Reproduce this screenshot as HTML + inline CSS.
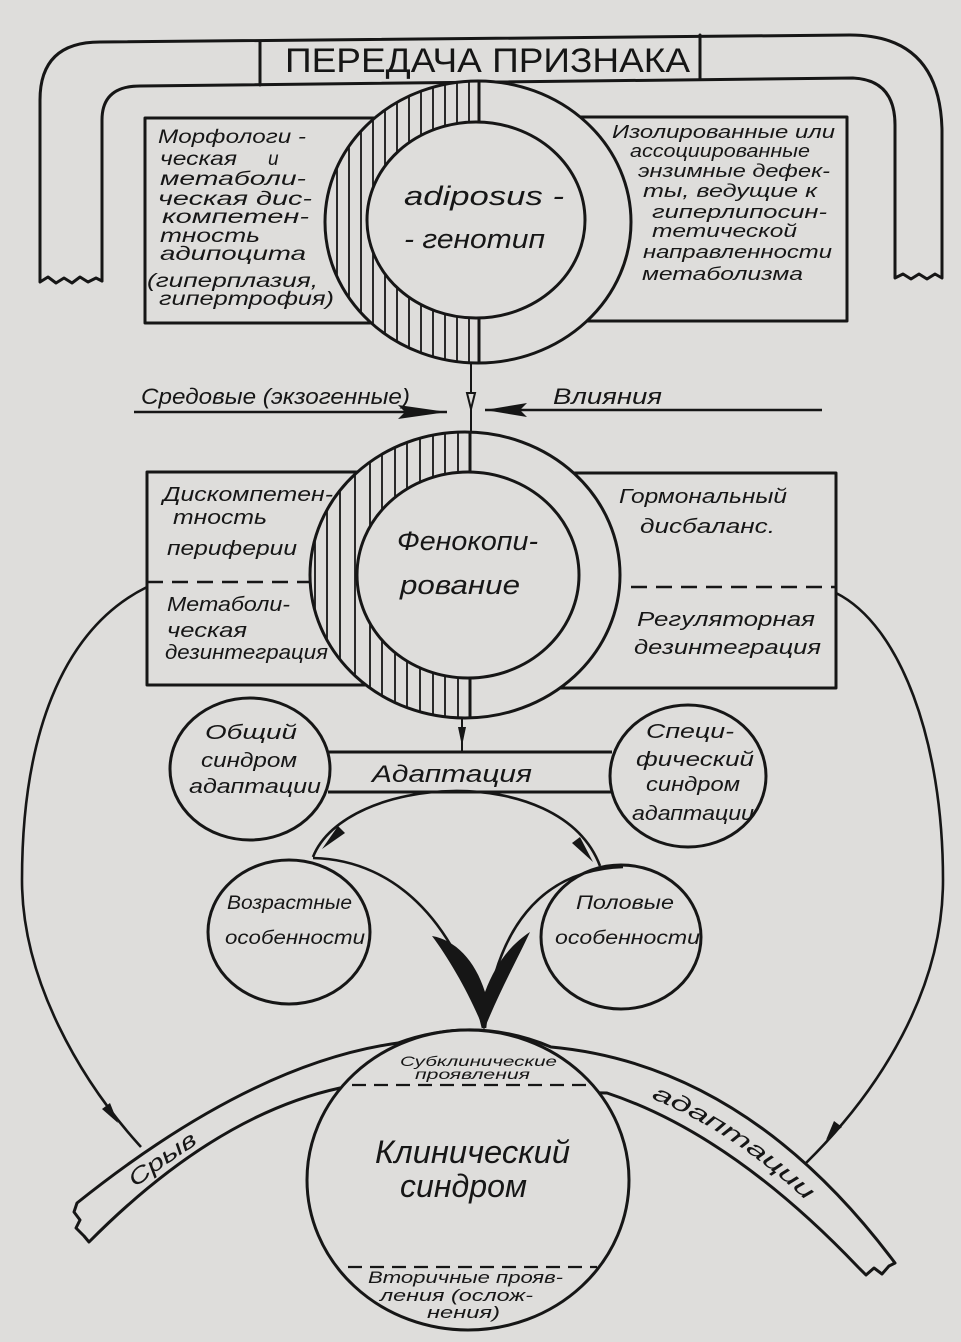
<!DOCTYPE html>
<html><head><meta charset="utf-8">
<style>
html,body{margin:0;padding:0;background:#dedddb;}
svg{display:block;}
text{font-family:"Liberation Sans","DejaVu Sans",sans-serif;fill:#161616;}
.h{font-style:italic;}
</style></head>
<body>
<svg width="961" height="1342" viewBox="0 0 961 1342" xmlns="http://www.w3.org/2000/svg">
<defs>
<clipPath id="ring1"><path clip-rule="evenodd" d="M325,222 a153,141 0 1,0 306,0 a153,141 0 1,0 -306,0 Z M367,220 a109,98 0 1,0 218,0 a109,98 0 1,0 -218,0 Z"/></clipPath>
<clipPath id="ring2"><path clip-rule="evenodd" d="M310,575 a155,143 0 1,0 310,0 a155,143 0 1,0 -310,0 Z M357,575 a111,103 0 1,0 222,0 a111,103 0 1,0 -222,0 Z"/></clipPath>
<path id="bandL" d="M83,1222 Q234,1089 369,1065"/>
<path id="bandR" d="M579,1070 Q739,1100 876,1265"/>
</defs>
<rect width="961" height="1342" fill="#dedddb"/>

<g fill="none" stroke="#161616" stroke-width="3" stroke-linecap="round" stroke-linejoin="round">
<!-- top arch -->
<path d="M40,281 L40,100 Q40,42 100,42 L850,35 Q940,35 942,130 L942,277"/>
<path d="M102,281 L102,120 Q102,86 140,86 L853,78 Q895,80 895,125 L895,277"/>
<polyline points="40,282 48,277 56,283 64,278 72,283 80,277 88,282 96,278 102,281"/>
<polyline points="895,278 903,274 911,279 919,274 927,279 935,274 942,278"/>
<line x1="260" y1="42" x2="260" y2="85"/>
<line x1="700" y1="35" x2="700" y2="78"/>

<!-- boxes row 1 -->
<rect x="145" y="118" width="290" height="205"/>
<rect x="530" y="117" width="317" height="204"/>

<!-- boxes row 2 -->
<rect x="147" y="472" width="290" height="213"/>
<rect x="540" y="473" width="296" height="215"/>
</g>
<g stroke="#161616" stroke-width="2.5" stroke-dasharray="16 9" fill="none">
<line x1="147" y1="582" x2="312" y2="582"/>
<line x1="631" y1="587" x2="836" y2="587"/>
</g>

<!-- big side curves -->
<g fill="none" stroke="#161616" stroke-width="2.6">
<path d="M147,587 C60,630 22,740 22,880 C22,980 80,1080 141,1147"/>
<path d="M836,593 C900,625 943,740 943,880 C943,990 880,1090 806,1163"/>
</g>
<polygon points="118,1123 102,1109 110,1103" fill="#161616"/>
<polygon points="826,1140 834,1121 842,1127" fill="#161616"/>

<!-- circle 1 -->
<g stroke="#161616" stroke-width="3">
<ellipse cx="478" cy="222" rx="153" ry="141" fill="#dedddb"/>
</g>
<g clip-path="url(#ring1)" stroke="#161616" stroke-width="1.8">
<line x1="337" y1="70" x2="337" y2="370"/><line x1="349" y1="70" x2="349" y2="370"/>
<line x1="361" y1="70" x2="361" y2="370"/><line x1="373" y1="70" x2="373" y2="370"/>
<line x1="385" y1="70" x2="385" y2="370"/><line x1="397" y1="70" x2="397" y2="370"/>
<line x1="409" y1="70" x2="409" y2="370"/><line x1="421" y1="70" x2="421" y2="370"/>
<line x1="433" y1="70" x2="433" y2="370"/><line x1="445" y1="70" x2="445" y2="370"/>
<line x1="457" y1="70" x2="457" y2="370"/><line x1="469" y1="70" x2="469" y2="370"/>
<line x1="479" y1="70" x2="479" y2="370" stroke-width="3"/>
</g>
<ellipse cx="476" cy="220" rx="109" ry="98" fill="#dedddb" stroke="#161616" stroke-width="3"/>

<!-- circle 2 -->
<ellipse cx="465" cy="575" rx="155" ry="143" fill="#dedddb" stroke="#161616" stroke-width="3"/>
<g clip-path="url(#ring2)" stroke="#161616" stroke-width="1.8">
<line x1="315" y1="420" x2="315" y2="730"/><line x1="327" y1="420" x2="327" y2="730"/>
<line x1="340" y1="420" x2="340" y2="730"/><line x1="355" y1="420" x2="355" y2="730"/>
<line x1="370" y1="420" x2="370" y2="730"/><line x1="382" y1="420" x2="382" y2="730"/>
<line x1="395" y1="420" x2="395" y2="730"/><line x1="407" y1="420" x2="407" y2="730"/>
<line x1="420" y1="420" x2="420" y2="730"/><line x1="433" y1="420" x2="433" y2="730"/>
<line x1="445" y1="420" x2="445" y2="730"/><line x1="458" y1="420" x2="458" y2="730"/>
<line x1="470" y1="420" x2="470" y2="730" stroke-width="3"/>
</g>
<ellipse cx="468" cy="575" rx="111" ry="103" fill="#dedddb" stroke="#161616" stroke-width="3"/>

<!-- arrows between circles -->
<g stroke="#161616" stroke-width="2" fill="none">
<line x1="471" y1="363" x2="471" y2="432"/>
<polygon points="467,393 475,393 471,409" fill="#dedddb"/>
<line x1="134" y1="412" x2="447" y2="412" stroke-width="2.5"/>
<line x1="485" y1="410" x2="822" y2="410" stroke-width="2.5"/>
<line x1="462" y1="718" x2="462" y2="752"/>
</g>
<polygon points="398,405 447,412 398,419 405,412" fill="#161616"/>
<polygon points="527,403 485,410 527,417 520,410" fill="#161616"/>
<polygon points="458,727 466,727 462,746" fill="#161616"/>

<!-- adaptation bar -->
<g stroke="#161616" stroke-width="3" fill="none">
<line x1="328" y1="752" x2="612" y2="752"/>
<line x1="328" y1="792" x2="612" y2="792"/>
<path d="M313,857 C345,775 560,760 600,866" stroke-width="2.6"/>
</g>
<ellipse cx="250" cy="769" rx="80" ry="71" fill="#dedddb" stroke="#161616" stroke-width="3"/>
<ellipse cx="688" cy="776" rx="78" ry="71" fill="#dedddb" stroke="#161616" stroke-width="3"/>
<polygon points="322,849 345,833 338,826" fill="#161616"/>
<polygon points="593,862 580,837 572,843" fill="#161616"/>

<!-- small circles -->
<ellipse cx="289" cy="932" rx="81" ry="72" fill="#dedddb" stroke="#161616" stroke-width="3"/>
<ellipse cx="621" cy="937" rx="80" ry="72" fill="#dedddb" stroke="#161616" stroke-width="3"/>
<g stroke="#161616" stroke-width="2.6" fill="none">
<path d="M313,858 C400,860 460,930 483,1028"/>
<path d="M623,867 C540,870 495,930 485,1028"/>
</g>
<path d="M432,936 C455,940 475,960 485,992 C495,965 510,945 530,932 C518,958 500,990 484,1030 C470,995 450,960 432,936 Z" fill="#161616"/>

<!-- band -->
<path d="M77,1203 Q252,1063 398,1043 Q475,1015 551,1047 Q747,1065 895,1263 L889,1266 882,1274 874,1268 866,1275 858,1267 Q731,1134 607,1093 L340,1088 Q215,1115 89,1242 L84,1236 76,1228 80,1220 74,1212 Z" fill="#dedddb" stroke="#161616" stroke-width="3" stroke-linejoin="round"/>

<!-- clinical circle -->
<ellipse cx="468" cy="1180" rx="161" ry="150" fill="#dedddb" stroke="#161616" stroke-width="3"/>
<g stroke="#161616" stroke-width="2.2" stroke-dasharray="14 8">
<line x1="352" y1="1085" x2="592" y2="1085"/>
<line x1="348" y1="1267" x2="597" y2="1267"/>
</g>

<!-- TEXT -->
<text x="285" y="72" font-size="34" textLength="405" lengthAdjust="spacingAndGlyphs">ПЕРЕДАЧА ПРИЗНАКА</text>

<g class="h" font-size="19" font-style="italic">
<text x="158" y="143" textLength="148" lengthAdjust="spacingAndGlyphs">Морфологи -</text>
<text x="160" y="165" textLength="77" lengthAdjust="spacingAndGlyphs">ческая</text>
<text x="268" y="165">и</text>
<text x="160" y="185" textLength="146" lengthAdjust="spacingAndGlyphs">метаболи-</text>
<text x="158" y="205" textLength="154" lengthAdjust="spacingAndGlyphs">ческая дис-</text>
<text x="162" y="223" textLength="147" lengthAdjust="spacingAndGlyphs">компетен-</text>
<text x="160" y="242" textLength="100" lengthAdjust="spacingAndGlyphs">тность</text>
<text x="160" y="260" textLength="146" lengthAdjust="spacingAndGlyphs">адипоцита</text>
<text x="147" y="287" textLength="171" lengthAdjust="spacingAndGlyphs">(гиперплазия,</text>
<text x="159" y="305" textLength="175" lengthAdjust="spacingAndGlyphs">гипертрофия)</text>
</g>

<g font-size="18" font-style="italic">
<text x="612" y="138" textLength="223" lengthAdjust="spacingAndGlyphs">Изолированные или</text>
<text x="630" y="157" textLength="180" lengthAdjust="spacingAndGlyphs">ассоциированные</text>
<text x="638" y="177" textLength="192" lengthAdjust="spacingAndGlyphs">энзимные дефек-</text>
<text x="643" y="197" textLength="174" lengthAdjust="spacingAndGlyphs">ты, ведущие к</text>
<text x="652" y="218" textLength="175" lengthAdjust="spacingAndGlyphs">гиперлипосин-</text>
<text x="652" y="237" textLength="145" lengthAdjust="spacingAndGlyphs">тетической</text>
<text x="643" y="258" textLength="189" lengthAdjust="spacingAndGlyphs">направленности</text>
<text x="642" y="280" textLength="161" lengthAdjust="spacingAndGlyphs">метаболизма</text>
</g>

<g font-size="27" font-style="italic">
<text x="404" y="205" textLength="160" lengthAdjust="spacingAndGlyphs">adiposus -</text>
<text x="404" y="248" textLength="141" lengthAdjust="spacingAndGlyphs">- генотип</text>
<text x="397" y="550" textLength="141" lengthAdjust="spacingAndGlyphs">Фенокопи-</text>
<text x="400" y="594" textLength="120" lengthAdjust="spacingAndGlyphs">рование</text>
</g>

<g font-size="22" font-style="italic">
<text x="141" y="404" textLength="269" lengthAdjust="spacingAndGlyphs">Средовые (экзогенные)</text>
<text x="553" y="404" textLength="109" lengthAdjust="spacingAndGlyphs">Влияния</text>
</g>

<g font-size="20" font-style="italic">
<text x="163" y="501" textLength="170" lengthAdjust="spacingAndGlyphs">Дискомпетен-</text>
<text x="173" y="524" textLength="94" lengthAdjust="spacingAndGlyphs">тность</text>
<text x="167" y="555" textLength="130" lengthAdjust="spacingAndGlyphs">периферии</text>
<text x="167" y="611" textLength="123" lengthAdjust="spacingAndGlyphs">Метаболи-</text>
<text x="167" y="637" textLength="80" lengthAdjust="spacingAndGlyphs">ческая</text>
<text x="165" y="659" textLength="163" lengthAdjust="spacingAndGlyphs">дезинтеграция</text>
<text x="619" y="503" textLength="168" lengthAdjust="spacingAndGlyphs">Гормональный</text>
<text x="640" y="533" textLength="135" lengthAdjust="spacingAndGlyphs">дисбаланс.</text>
<text x="637" y="626" textLength="178" lengthAdjust="spacingAndGlyphs">Регуляторная</text>
<text x="634" y="654" textLength="187" lengthAdjust="spacingAndGlyphs">дезинтеграция</text>

<text x="205" y="739" textLength="92" lengthAdjust="spacingAndGlyphs">Общий</text>
<text x="201" y="767" textLength="96" lengthAdjust="spacingAndGlyphs">синдром</text>
<text x="189" y="793" textLength="132" lengthAdjust="spacingAndGlyphs">адаптации</text>
<text x="646" y="738" textLength="88" lengthAdjust="spacingAndGlyphs">Специ-</text>
<text x="636" y="766" textLength="118" lengthAdjust="spacingAndGlyphs">фический</text>
<text x="646" y="791" textLength="94" lengthAdjust="spacingAndGlyphs">синдром</text>
<text x="632" y="820" textLength="122" lengthAdjust="spacingAndGlyphs">адаптации</text>
</g>

<text x="372" y="782" font-size="24" font-style="italic" textLength="160" lengthAdjust="spacingAndGlyphs">Адаптация</text>

<g font-size="19" font-style="italic">
<text x="227" y="909" textLength="125" lengthAdjust="spacingAndGlyphs">Возрастные</text>
<text x="225" y="944" textLength="140" lengthAdjust="spacingAndGlyphs">особенности</text>
<text x="576" y="909" textLength="98" lengthAdjust="spacingAndGlyphs">Половые</text>
<text x="555" y="944" textLength="145" lengthAdjust="spacingAndGlyphs">особенности</text>
</g>

<g font-size="14" font-style="italic">
<text x="400" y="1066" textLength="157" lengthAdjust="spacingAndGlyphs">Субклинические</text>
<text x="415" y="1079" textLength="115" lengthAdjust="spacingAndGlyphs">проявления</text>
</g>
<g font-size="32" font-style="italic">
<text x="375" y="1163" textLength="195" lengthAdjust="spacingAndGlyphs">Клинический</text>
<text x="400" y="1197" textLength="127" lengthAdjust="spacingAndGlyphs">синдром</text>
</g>
<g font-size="17" font-style="italic">
<text x="368" y="1283" textLength="195" lengthAdjust="spacingAndGlyphs">Вторичные прояв-</text>
<text x="380" y="1301" textLength="153" lengthAdjust="spacingAndGlyphs">ления (ослож-</text>
<text x="427" y="1318" textLength="73" lengthAdjust="spacingAndGlyphs">нения)</text>
</g>

<text font-size="22" font-style="italic" dy="7"><textPath href="#bandL" startOffset="62" textLength="78" lengthAdjust="spacingAndGlyphs">Срыв</textPath></text>
<text font-size="22" font-style="italic" dy="7"><textPath href="#bandR" startOffset="78" textLength="190" lengthAdjust="spacingAndGlyphs">адаптации</textPath></text>
</svg>
</body></html>
